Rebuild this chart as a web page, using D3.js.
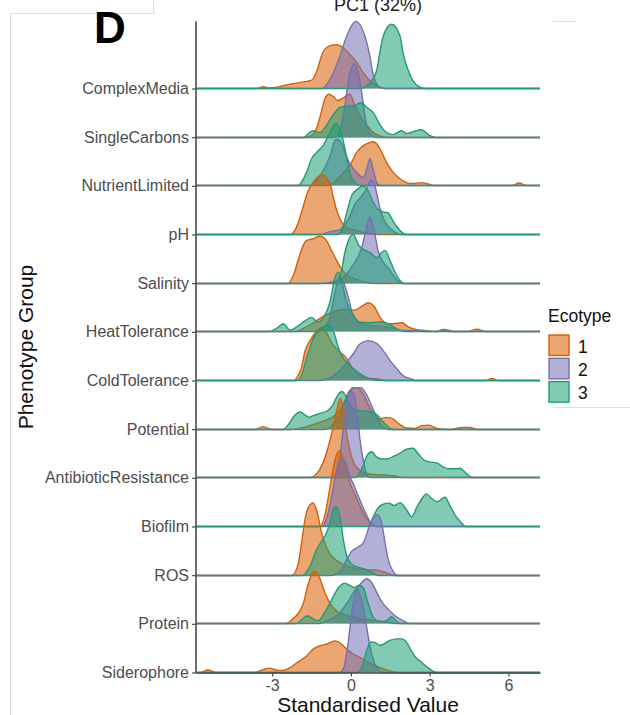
<!DOCTYPE html>
<html>
<head>
<meta charset="utf-8">
<script src="https://cdn.jsdelivr.net/npm/d3@7"></script>
<style>
  body { margin: 0; background: #fff; }
  text { font-family: "Liberation Sans", Arial, sans-serif; }
</style>
</head>
<body>
<svg id="chart" width="630" height="715"></svg>
<script>
// phenotype groups, top row first
var groups = ["ComplexMedia", "SingleCarbons", "NutrientLimited", "pH", "Salinity",
  "HeatTolerance", "ColdTolerance", "Potential", "AntibioticResistance", "Biofilm",
  "ROS", "Protein", "Siderophore"];
var ecotypes = ["1", "2", "3"];
var ecoColors = ["#D95F02", "#7570B3", "#1B9E77"];
var xTicks = [-3, 0, 3, 6];

// ridge profiles: [standardised value, scaled density]
// (scaled density 1 = one row step), one list per ecotype 1, 2, 3
var ridgeComplexMedia = [
  [[-3.58,0],[-3.35,0.035],[-3.09,0.01],[-2.7,0.04],[-2.32,0.09],[-1.75,0.14],[-1.49,0.17],[-1.3,0.36],[-1.07,0.74],[-0.8,0.88],[-0.53,0.9],[-0.3,0.84],[-0.04,0.7],[0.23,0.53],[0.46,0.33],[0.72,0.16],[0.99,0.06],[1.3,0]],
  [[-1.07,0],[-0.91,0.09],[-0.69,0.3],[-0.42,0.67],[-0.16,1.08],[0.19,1.38],[0.53,1.08],[0.72,0.67],[0.84,0.3],[0.98,0.09],[1.1,0.02],[1.3,0]],
  [[0.34,0],[0.6,0.055],[0.79,0.16],[0.98,0.37],[1.1,0.74],[1.23,1.08],[1.55,1.32],[1.87,1.08],[1.98,0.74],[2.17,0.39],[2.36,0.16],[2.55,0.05],[2.82,0]]
];
var ridgeSingleCarbons = [
  [[-1.75,0],[-1.45,0.06],[-1.3,0.2],[-1.14,0.5],[-0.99,0.8],[-0.84,0.89],[-0.69,0.85],[-0.5,0.76],[-0.27,0.82],[-0.04,0.89],[0.15,0.66],[0.34,0.45],[0.61,0.25],[0.84,0.1],[1.1,0.035],[1.37,0]],
  [[-0.69,0],[-0.54,0.04],[-0.42,0.14],[-0.29,0.45],[-0.16,0.92],[-0.04,1.33],[0.13,1.52],[0.28,1.33],[0.41,0.92],[0.53,0.45],[0.66,0.14],[0.79,0.04],[0.95,0]],
  [[-1.83,0],[-1.45,0.14],[-1.18,0.1],[-0.93,0.25],[-0.67,0.47],[-0.42,0.62],[-0.16,0.64],[0.15,0.66],[0.38,0.72],[0.6,0.62],[0.85,0.51],[1.1,0.27],[1.36,0.1],[1.61,0.06],[1.93,0.14],[2.12,0.08],[2.37,0.12],[2.69,0.16],[2.94,0.06],[3.26,0]]
];
var ridgeNutrientLimited = [
  [[-0.88,0],[-0.57,0.1],[-0.3,0.25],[-0.04,0.41],[0.22,0.68],[0.47,0.82],[0.7,0.88],[0.84,0.9],[0.98,0.86],[1.1,0.76],[1.36,0.47],[1.61,0.27],[1.87,0.14],[2.12,0.06],[2.37,0.04],[2.69,0.06],[2.94,0.03],[3.2,0],[6.13,0],[6.4,0.05],[6.7,0]],
  [[-1.56,0],[-1.18,0.2],[-0.8,0.6],[-0.57,0.95],[-0.34,0.85],[-0.16,0.58],[0.04,0.38],[0.22,0.27],[0.47,0.16],[0.61,0.35],[0.72,0.55],[0.84,0.35],[0.99,0.05],[1.1,0]],
  [[-2.02,0],[-1.69,0.27],[-1.5,0.55],[-1.31,0.68],[-1.06,0.82],[-0.8,1.09],[-0.57,1.27],[-0.42,1.17],[-0.23,0.76],[-0.04,0.27],[0.15,0.06],[0.34,0]]
];
var ridgePH = [
  [[-2.3,0],[-2.1,0.12],[-1.94,0.35],[-1.75,0.7],[-1.63,0.9],[-1.44,1.07],[-1.12,1.23],[-0.8,1.05],[-0.67,0.76],[-0.54,0.49],[-0.35,0.25],[-0.16,0.14],[0.22,0.08],[0.53,0.03],[0.98,0]],
  [[-1.18,0],[-0.8,0.06],[-0.42,0.1],[-0.11,0.3],[0.15,0.62],[0.42,0.8],[0.6,0.95],[0.75,1.12],[0.85,1.1],[0.98,0.85],[1.1,0.55],[1.26,0.3],[1.45,0.15],[1.68,0.05],[1.87,0]],
  [[-0.5,0],[-0.29,0.18],[-0.16,0.45],[0.03,0.8],[0.22,0.92],[0.47,0.99],[0.65,0.9],[0.8,0.72],[1.03,0.52],[1.26,0.46],[1.41,0.45],[1.56,0.32],[1.75,0.16],[1.98,0.03],[2.13,0]]
];
var ridgeSalinity = [
  [[-2.4,0],[-2.2,0.16],[-2.0,0.5],[-1.88,0.7],[-1.69,0.88],[-1.44,0.92],[-1.18,0.97],[-0.93,0.88],[-0.74,0.68],[-0.54,0.47],[-0.35,0.29],[-0.16,0.18],[0.22,0.08],[0.6,0.02],[0.91,0]],
  [[-1.18,0],[-0.61,0.05],[-0.23,0.15],[0.04,0.35],[0.27,0.55],[0.42,0.75],[0.57,1.1],[0.72,1.37],[0.88,1.1],[1.03,0.68],[1.22,0.45],[1.45,0.3],[1.68,0.12],[1.87,0.02],[2.02,0]],
  [[-0.57,0],[-0.35,0.29],[-0.23,0.64],[-0.1,0.88],[0.09,1.01],[0.28,0.8],[0.47,0.7],[0.72,0.64],[0.98,0.53],[1.17,0.64],[1.3,0.68],[1.49,0.47],[1.68,0.23],[1.87,0.06],[2.02,0]]
];
var ridgeHeatTolerance = [
  [[-2.1,0],[-1.75,0.08],[-1.37,0.2],[-0.99,0.33],[-0.61,0.42],[-0.23,0.45],[0.15,0.44],[0.42,0.52],[0.66,0.59],[0.88,0.52],[1.1,0.3],[1.37,0.16],[1.6,0.16],[1.94,0.18],[2.17,0.1],[2.48,0.04],[2.82,0.02],[3.24,0],[3.58,0.04],[3.92,0],[4.46,0],[4.8,0.045],[5.14,0]],
  [[-1.26,0],[-0.99,0.08],[-0.8,0.3],[-0.61,0.8],[-0.42,1.15],[-0.27,1.0],[-0.11,0.72],[0.04,0.4],[0.23,0.22],[0.46,0.15],[0.8,0.12],[1.3,0.1],[1.68,0.06],[1.98,0.02],[2.44,0.02],[2.82,0],[3.28,0],[3.5,0.04],[3.73,0]],
  [[-3.09,0],[-2.82,0.07],[-2.58,0.16],[-2.32,0.03],[-2.0,0.12],[-1.75,0.22],[-1.5,0.29],[-1.25,0.19],[-1.03,0.3],[-0.8,0.6],[-0.61,1.1],[-0.48,1.22],[-0.34,1.0],[-0.16,0.6],[0.09,0.33],[0.34,0.19],[0.72,0.18],[1.14,0.2],[1.42,0.16],[1.74,0.06],[2.02,0]]
];
var ridgeColdTolerance = [
  [[-2.17,0],[-2.02,0.1],[-1.88,0.27],[-1.75,0.6],[-1.56,0.82],[-1.37,0.97],[-1.12,1.09],[-0.95,1.0],[-0.76,0.8],[-0.57,0.66],[-0.34,0.55],[-0.15,0.45],[0.04,0.27],[0.23,0.14],[0.42,0.08],[0.72,0.04],[1.03,0.03],[1.33,0],[5.1,0],[5.37,0.04],[5.64,0]],
  [[-1.18,0],[-0.72,0.08],[-0.42,0.2],[-0.15,0.38],[0.09,0.55],[0.34,0.75],[0.65,0.82],[0.99,0.76],[1.22,0.62],[1.49,0.41],[1.75,0.24],[1.98,0.1],[2.25,0.04],[2.48,0]],
  [[-2.06,0],[-1.82,0.2],[-1.69,0.47],[-1.56,0.68],[-1.44,0.86],[-1.3,0.98],[-1.1,1.08],[-0.91,1.14],[-0.76,1.1],[-0.61,0.92],[-0.48,0.68],[-0.34,0.5],[-0.15,0.37],[0.08,0.25],[0.34,0.14],[0.61,0.06],[0.88,0.01],[1.03,0]]
];
var ridgePotential = [
  [[-3.66,0],[-3.35,0.06],[-3.0,0],[-2.32,0],[-1.75,0.05],[-1.18,0.15],[-0.61,0.3],[-0.3,0.5],[-0.11,0.75],[0.08,0.86],[0.27,0.86],[0.5,0.7],[0.69,0.48],[0.88,0.3],[1.1,0.22],[1.37,0.25],[1.6,0.22],[1.87,0.1],[2.13,0.03],[2.44,0.02],[2.7,0.08],[2.97,0.09],[3.28,0.02],[3.77,0],[4.23,0.04],[4.53,0.04],[4.84,0]],
  [[-0.99,0],[-0.69,0.1],[-0.42,0.3],[-0.23,0.55],[-0.04,0.78],[0.19,0.86],[0.38,0.86],[0.57,0.74],[0.8,0.47],[1.03,0.2],[1.22,0.05],[1.41,0]],
  [[-2.59,0],[-2.32,0.15],[-2.13,0.3],[-1.94,0.36],[-1.75,0.3],[-1.6,0.25],[-1.41,0.29],[-1.18,0.33],[-0.91,0.38],[-0.69,0.5],[-0.53,0.68],[-0.34,0.78],[-0.19,0.68],[-0.04,0.5],[0.19,0.4],[0.5,0.38],[0.8,0.37],[1.03,0.28],[1.22,0.16],[1.45,0.04],[1.6,0]]
];
var ridgeAntibioticResistance = [
  [[-1.56,0],[-1.3,0.08],[-1.07,0.29],[-0.8,0.76],[-0.67,1.05],[-0.53,1.4],[-0.4,1.63],[-0.29,1.4],[-0.19,1.0],[-0.04,0.55],[0.11,0.3],[0.34,0.15],[0.72,0.07],[1.3,0.05],[1.68,0.03],[1.94,0]],
  [[-0.69,0],[-0.53,0.15],[-0.42,0.45],[-0.3,0.95],[-0.17,1.45],[-0.04,1.78],[0.11,1.7],[0.23,1.35],[0.34,0.8],[0.47,0.35],[0.6,0.06],[0.72,0]],
  [[0.15,0],[0.34,0.1],[0.5,0.3],[0.61,0.45],[0.79,0.53],[0.98,0.42],[1.18,0.38],[1.37,0.38],[1.6,0.43],[1.87,0.5],[2.12,0.58],[2.37,0.6],[2.55,0.5],[2.78,0.36],[3.01,0.32],[3.28,0.3],[3.5,0.22],[3.77,0.18],[4.04,0.18],[4.15,0.19],[4.38,0.09],[4.61,0]]
];
var ridgeBiofilm = [
  [[-1.18,0],[-0.93,0.39],[-0.8,0.8],[-0.67,1.21],[-0.54,1.49],[-0.42,1.56],[-0.29,1.35],[-0.15,1.1],[-0.04,0.9],[0.22,0.58],[0.47,0.28],[0.72,0.08],[0.95,0]],
  [[-1.1,0],[-0.91,0.2],[-0.72,0.65],[-0.53,1.2],[-0.35,1.41],[-0.19,1.3],[-0.04,1.02],[0.09,0.88],[0.22,0.7],[0.34,0.55],[0.47,0.38],[0.6,0.23],[0.72,0.1],[0.85,0.02],[0.95,0]],
  [[0.65,0],[0.85,0.2],[1.03,0.38],[1.23,0.46],[1.45,0.48],[1.64,0.43],[1.87,0.49],[2.1,0.36],[2.31,0.2],[2.51,0.4],[2.69,0.56],[2.88,0.67],[3.07,0.58],[3.28,0.51],[3.58,0.6],[3.77,0.43],[3.96,0.24],[4.15,0.11],[4.38,0]]
];
var ridgeROS = [
  [[-2.25,0],[-2.0,0.26],[-1.88,0.67],[-1.75,1.15],[-1.63,1.39],[-1.44,1.49],[-1.28,1.29],[-1.12,0.88],[-0.93,0.57],[-0.67,0.36],[-0.29,0.23],[0.09,0.16],[0.6,0.12],[1.1,0.1],[1.36,0.055],[1.68,0]],
  [[-0.8,0],[-0.42,0.08],[-0.16,0.33],[0.03,0.5],[0.22,0.57],[0.47,0.67],[0.66,0.95],[0.85,1.19],[1.01,1.25],[1.17,1.08],[1.3,0.67],[1.42,0.33],[1.61,0.08],[1.79,0]],
  [[-1.87,0],[-1.56,0.19],[-1.31,0.53],[-1.12,0.7],[-0.93,0.88],[-0.8,1.08],[-0.67,1.36],[-0.55,1.42],[-0.42,1.21],[-0.29,0.74],[-0.16,0.4],[0.03,0.23],[0.34,0.16],[0.6,0.12],[0.85,0.055],[1.03,0]]
];
var ridgeProtein = [
  [[-2.48,0],[-2.2,0.1],[-2.02,0.2],[-1.82,0.4],[-1.63,0.8],[-1.5,1.0],[-1.37,1.07],[-1.18,0.92],[-0.99,0.63],[-0.8,0.42],[-0.54,0.25],[-0.16,0.17],[0.34,0.1],[0.85,0.06],[1.36,0.03],[1.68,0]],
  [[-1.18,0],[-0.93,0.06],[-0.54,0.16],[-0.29,0.31],[-0.04,0.51],[0.15,0.68],[0.34,0.8],[0.6,0.92],[0.79,0.84],[0.98,0.64],[1.17,0.45],[1.42,0.29],[1.68,0.16],[1.99,0.06],[2.25,0]],
  [[-2.06,0],[-1.87,0.08],[-1.66,0.16],[-1.45,0.1],[-1.25,0.06],[-1.03,0.2],[-0.8,0.42],[-0.61,0.62],[-0.42,0.77],[-0.23,0.83],[-0.04,0.78],[0.11,0.74],[0.3,0.78],[0.47,0.74],[0.61,0.5],[0.79,0.2],[0.98,0.06],[1.18,0.04],[1.36,0.06],[1.55,0.14],[1.74,0.04],[1.87,0]]
];
var ridgeSiderophore = [
  [[-5.75,0],[-5.45,0.05],[-5.1,0],[-3.66,0],[-3.35,0.06],[-3.09,0.09],[-2.82,0.05],[-2.59,0.04],[-2.32,0.1],[-2.06,0.2],[-1.69,0.34],[-1.44,0.48],[-1.18,0.55],[-0.93,0.58],[-0.61,0.65],[-0.35,0.58],[-0.16,0.48],[0.09,0.38],[0.34,0.31],[0.72,0.2],[1.1,0.1],[1.49,0.03],[1.75,0]],
  [[-0.42,0],[-0.27,0.1],[-0.15,0.45],[-0.04,0.9],[0.08,1.4],[0.22,1.72],[0.34,1.6],[0.5,1.25],[0.61,0.9],[0.72,0.55],[0.88,0.22],[1.03,0.07],[1.22,0]],
  [[0.23,0],[0.42,0.12],[0.6,0.45],[0.76,0.63],[0.91,0.62],[1.1,0.56],[1.3,0.6],[1.49,0.66],[1.74,0.69],[1.94,0.69],[2.12,0.62],[2.31,0.44],[2.48,0.3],[2.63,0.24],[2.88,0.12],[3.09,0.04],[3.31,0]]
];

var ridges = [ridgeComplexMedia, ridgeSingleCarbons, ridgeNutrientLimited, ridgePH, ridgeSalinity,
  ridgeHeatTolerance, ridgeColdTolerance, ridgePotential, ridgeAntibioticResistance, ridgeBiofilm,
  ridgeROS, ridgeProtein, ridgeSiderophore];

var svg = d3.select("#chart");
var xDomain = [-5.9, 7.2];

var x = d3.scaleLinear().domain(xDomain).range([196, 540]);
var y = d3.scalePoint().domain(groups).range([88, 672]);
var step = y.step();
var hScale = d3.scaleLinear().domain([0, 1]).range([0, step]);
var color = d3.scaleOrdinal().domain(ecotypes).range(ecoColors);

// faint frame left over from the figure panel
var frame = svg.append("g").attr("stroke", "#dcdcdc").attr("stroke-width", 1).attr("fill", "none");
frame.append("path").attr("d", "M10.5,715V13.5H153.5V0");
frame.append("path").attr("d", "M553,21.5H576");
frame.append("path").attr("d", "M553,407.5H630");

// panel label
svg.append("text")
  .attr("x", 94).attr("y", 43)
  .attr("font-size", 44).attr("font-weight", "bold")
  .attr("fill", "#000")
  .text("D");

// title, cut at the top edge as in the figure
svg.append("text")
  .attr("x", 378).attr("y", 11)
  .attr("text-anchor", "middle")
  .attr("font-size", 18)
  .attr("fill", "#222")
  .text("PC1 (32%)");

var area = function(base) {
  return d3.area()
    .x(function(d) { return x(d[0]); })
    .y0(base)
    .y1(function(d) { return base - hScale(d[1]); })
    .curve(d3.curveMonotoneX);
};
var line = function(base) {
  return d3.line()
    .x(function(d) { return x(d[0]); })
    .y(function(d) { return base - hScale(d[1]); })
    .curve(d3.curveMonotoneX);
};

var plot = svg.append("g");

// top row first so lower ridges overlap the ones above
groups.forEach(function(g, gi) {
  var base = Math.round(y(g)) + 0.5;
  ridges[gi].forEach(function(series, ei) {
    var pts = [[xDomain[0], 0]].concat(series, [[xDomain[1], 0]]);
    plot.append("path")
      .datum(pts)
      .attr("d", area(base))
      .attr("fill", color(ecotypes[ei]))
      .attr("fill-opacity", 0.55)
      .attr("stroke", "none");
    plot.append("path")
      .datum(pts)
      .attr("d", line(base))
      .attr("fill", "none")
      .attr("stroke", color(ecotypes[ei]))
      .attr("stroke-width", 1.4);
  });
});

// y axis
var yAxis = svg.append("g")
  .attr("transform", "translate(196,0.5)")
  .call(d3.axisLeft(y).tickSize(4).tickPadding(3));
yAxis.select(".domain").remove();
yAxis.selectAll(".tick line").attr("stroke", "#4d4d4d").attr("stroke-width", 1.2);
yAxis.selectAll(".tick text")
  .attr("font-size", 16)
  .attr("fill", "#4d4d4d")
  .attr("font-family", "Liberation Sans, Arial, sans-serif");
svg.append("line")
  .attr("x1", 196).attr("x2", 196)
  .attr("y1", y(groups[0]) - 1.37 * step)
  .attr("y2", y(groups[groups.length - 1]) + 1)
  .attr("stroke", "#4a4a4a")
  .attr("stroke-width", 1.6);

// x axis
var xAxis = svg.append("g")
  .attr("transform", "translate(0," + (y(groups[groups.length - 1]) + 0.5) + ")")
  .call(d3.axisBottom(x).tickValues(xTicks).tickSize(4).tickSizeOuter(0)
    .tickFormat(function(d) { return String(d); }));
xAxis.select(".domain").attr("stroke", "#4a4a4a").attr("stroke-width", 1.6);
xAxis.selectAll(".tick line").attr("stroke", "#4d4d4d").attr("stroke-width", 1.2);
xAxis.selectAll(".tick text")
  .attr("font-size", 16)
  .attr("fill", "#4d4d4d")
  .attr("font-family", "Liberation Sans, Arial, sans-serif");

// axis titles
svg.append("text")
  .attr("x", 368).attr("y", 712)
  .attr("text-anchor", "middle")
  .attr("font-size", 21)
  .attr("fill", "#111")
  .text("Standardised Value");
svg.append("text")
  .attr("transform", "translate(33,347) rotate(-90)")
  .attr("text-anchor", "middle")
  .attr("font-size", 21)
  .attr("fill", "#111")
  .text("Phenotype Group");

// legend
var legend = svg.append("g").attr("transform", "translate(548,0)");
legend.append("text")
  .attr("x", 0).attr("y", 322)
  .attr("font-size", 17.5)
  .attr("fill", "#111")
  .text("Ecotype");
ecotypes.forEach(function(e, i) {
  legend.append("rect")
    .attr("x", 1).attr("y", 335 + i * 23.3)
    .attr("width", 20).attr("height", 20.5)
    .attr("fill", color(e)).attr("fill-opacity", 0.55)
    .attr("stroke", color(e)).attr("stroke-width", 1.4);
  legend.append("text")
    .attr("x", 30).attr("y", 352.5 + i * 23.3)
    .attr("font-size", 17.5)
    .attr("fill", "#111")
    .text(e);
});
</script>
</body>
</html>
